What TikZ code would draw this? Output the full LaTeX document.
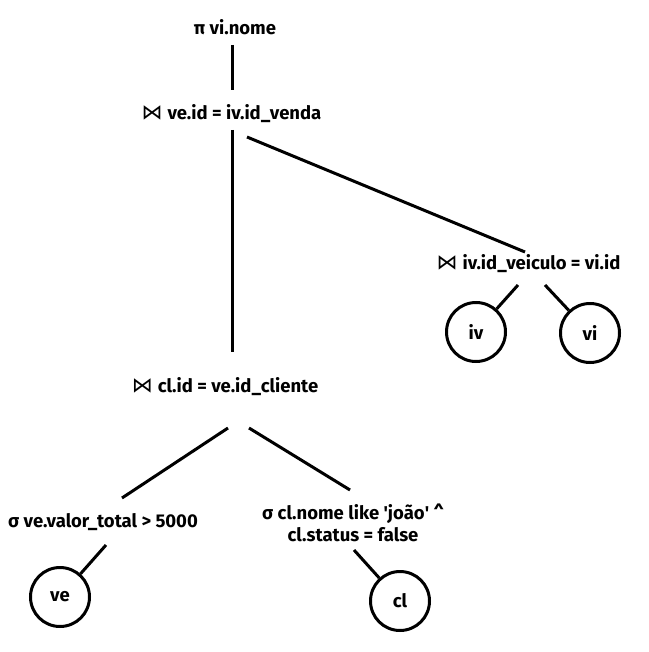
\documentclass[tikz,border=0pt]{standalone}
\usepackage{fontspec}
\setmainfont{Fira Sans}
\newfontfamily\symfont{DejaVu Sans}
\newcommand{\bowtiesym}{{\symfont\mdseries\fontsize{21}{21}\selectfont ⋈}\hspace{5pt}}
\begin{document}
\begin{tikzpicture}[x=1pt,y=-1pt,
  lbl/.style={inner sep=0pt,font=\fontsize{18.5}{22}\selectfont\bfseries},
  rel/.style={circle,draw,line width=3pt,minimum size=59pt,inner sep=0pt,font=\fontsize{18.5}{22}\selectfont\bfseries},
  edge/.style={line width=3pt}]
\useasboundingbox[fill=white] (0,0) rectangle (648,652);
\node[lbl] (p) at (235,27) {π vi.nome};
\node[lbl] (j1) at (231.5,114) {\bowtiesym ve.id = iv.id\_venda};
\node[lbl] (j2) at (528.5,264) {\bowtiesym iv.id\_veiculo = vi.id};
\node[lbl] (j3) at (225,387) {\bowtiesym cl.id = ve.id\_cliente};
\node[lbl] (s1) at (103,522) {σ ve.valor\_total > 5000};
\node[lbl,align=center] (s2) at (353,523) {σ cl.nome like \textquotesingle joão\textquotesingle\ \^{}\\cl.status = false};
\node[rel] (iv) at (476,332) {iv};
\node[rel] (vi) at (590,333) {vi};
\node[rel] (ve) at (60,597) {ve};
\node[rel] (cl) at (400,601) {cl};
\draw[edge] ([shift={(-3,18)}]p.center) -- ([shift={(0.5,-24)}]j1.center);
\draw[edge] ([shift={(0.5,16)}]j1.center) -- ([shift={(7,-35)}]j3.center);
\draw[edge] ([shift={(15.5,23)}]j1.center) -- ([shift={(-3.5,-12)}]j2.center);
\draw[edge] ([shift={(-10.5,21)}]j2.center) -- (iv);
\draw[edge] ([shift={(16.5,21)}]j2.center) -- (vi);
\draw[edge] ([shift={(3,41)}]j3.center) -- ([shift={(19,-24)}]s1.center);
\draw[edge] ([shift={(24,41)}]j3.center) -- ([shift={(-3,-33)}]s2.center);
\draw[edge] ([shift={(3,23)}]s1.center) -- (ve);
\draw[edge] ([shift={(1,27)}]s2.center) -- (cl);
\end{tikzpicture}
\end{document}
